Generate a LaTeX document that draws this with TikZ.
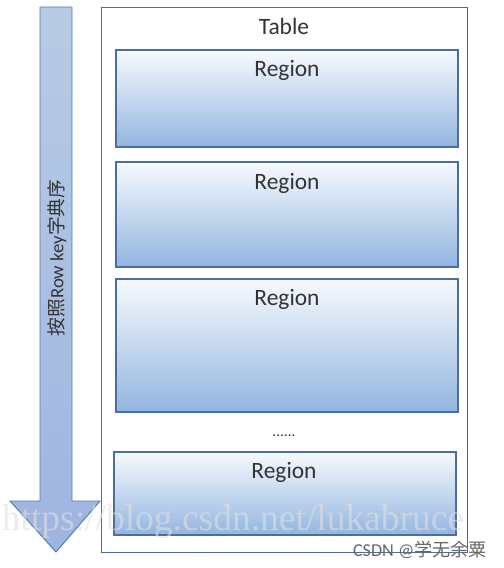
\documentclass[tikz,border=0pt]{standalone}
\usepackage{fontspec}
\setmainfont{Carlito}
\newfontfamily\cjk{Noto Sans CJK SC}
\newfontfamily\wmfont{Liberation Serif}
\usepackage{xcolor}

\definecolor{boxline}{HTML}{4A6F9F}
\definecolor{regiontop}{HTML}{F7FAFD}
\definecolor{regionbot}{HTML}{93B5E0}
\definecolor{arrowfill}{HTML}{A6BEDE}
\definecolor{arrowline}{HTML}{5479AC}
\definecolor{textgray}{HTML}{333333}

\tikzset{
  regionbox/.style={draw=boxline, line width=0.9pt, top color=regiontop, bottom color=regionbot},
  tablebox/.style={draw=boxline, line width=0.8pt, fill=white},
  label/.style={font=\fontsize{20}{22}\selectfont, text=textgray}
}

\begin{document}
\begin{tikzpicture}[x=0.03cm, y=-0.03cm]
    \useasboundingbox (0,0) rectangle (503,568);
    % arrow on the left
    \draw [arrowline, line width=0.8pt, top color=arrowfill!80!white, bottom color=arrowfill!95!blue]
        (40,7) -- (72,7) -- (72,501) -- (100,501) -- (56,552) -- (10,501) -- (40,501) -- cycle;
    \node [label, font=\fontsize{16}{18}\selectfont, rotate=90] (order) at (57,258) {{\cjk 按照}Row key{\cjk 字典序}};
    % table with its regions
    \draw [tablebox] (101,7) rectangle (467,552);
    \node [label] (table) at (284,26) {Table};
    \draw [regionbox] (116,50) rectangle (458,147);
    \node [label] (r1) at (287,70) {Region};
    \draw [regionbox] (116,162) rectangle (458,267);
    \node [label] (r2) at (287,183) {Region};
    \draw [regionbox] (116,279) rectangle (458,412);
    \node [label] (r3) at (287,299) {Region};
    \node [label, font=\fontsize{13}{15}\selectfont] (dots) at (284,436) {......};
    \draw [regionbox] (114,452) rectangle (456,535);
    \node [label] (r4) at (284,472) {Region};
    % watermarks
    \node [font=\fontsize{32}{34}\selectfont\wmfont, text=black!12, text opacity=0.6] (url) at (233,522) {https://blog.csdn.net/lukabruce};
    \node [font=\fontsize{15.5}{17}\selectfont, text=black!60] (mark) at (420,550) {CSDN @{\cjk 学无余粟}};
\end{tikzpicture}
\end{document}
